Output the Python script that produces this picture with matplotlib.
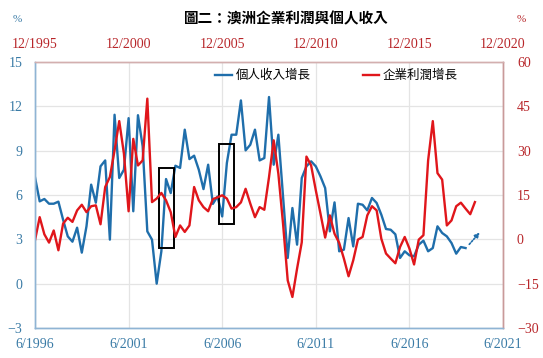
import matplotlib
matplotlib.use('Agg')
import matplotlib.pyplot as plt
from matplotlib.patches import Rectangle
import numpy as np

plt.rcParams['font.family'] = ['Liberation Serif', 'Noto Sans CJK TC']

# Quarterly series, first point = 6/1996
start_year = 1996.5
income_growth = [
    7.2, 5.57, 5.73, 5.41, 5.41, 5.55, 4.33, 3.2, 2.84, 3.79,
    2.1, 3.88, 6.7, 5.48, 7.94, 8.34, 2.98, 11.43, 7.15, 7.71,
    11.2, 4.9, 11.4, 9.3, 3.54, 2.98, 0.0, 2.19, 7.08, 6.13,
    7.98, 7.83, 10.42, 8.43, 8.66, 7.71, 6.4, 8.05, 5.4, 5.9,
    4.55, 8.17, 10.08, 10.08, 12.4, 9.02, 9.4, 10.42, 8.34, 8.5,
    12.63, 8.05, 10.08, 5.9, 1.74, 5.12, 2.64, 7.15, 7.94, 8.28,
    7.94, 7.26, 6.47, 3.54, 5.5, 2.19, 2.3, 4.44, 2.52, 5.41,
    5.34, 4.96, 5.8, 5.46, 4.67, 3.7, 3.65, 3.34, 1.74, 2.19,
    1.92, 1.85, 2.64, 2.91, 2.19, 2.41, 3.88, 3.43, 3.2, 2.75,
    2.03, 2.48, 2.41,
]
profit_growth = [
    -0.3, 7.5, 1.7, -1.1, 3.0, -3.7, 5.3, 7.3, 5.9, 9.8,
    11.7, 9.2, 11.2, 11.5, 5.1, 17.7, 21.1, 30.1, 40.0, 29.0,
    9.5, 34.0, 25.0, 26.7, 47.6, 12.6, 13.8, 15.7, 13.2, 9.2,
    0.8, 4.7, 2.5, 4.7, 17.7, 13.2, 10.9, 9.5, 13.6, 14.2,
    14.9, 13.8, 10.4, 10.9, 12.5, 17.1, 12.1, 7.5, 10.9, 10.0,
    21.0, 33.5, 22.2, 5.3, -13.9, -19.5, -9.9, -1.0, 28.0, 25.0,
    16.6, 8.7, 0.6, 8.1, 1.9, -1.2, -6.5, -12.5, -7.1, -0.1,
    0.8, 8.1, 11.2, 9.8, 0.2, -4.8, -6.5, -8.1, -2.6, 0.8,
    -3.1, -8.5, -0.1, 1.4, 26.7, 40.0, 22.4, 20.2, 4.7, 6.4,
    11.2, 12.4, 10.4, 8.5, 12.6,
]
bottom_labels = ['6/1996', '6/2001', '6/2006', '6/2011', '6/2016', '6/2021']
top_labels = ['12/1995', '12/2000', '12/2005', '12/2010', '12/2015', '12/2020']
tick_years = [1996.5, 2001.5, 2006.5, 2011.5, 2016.5, 2021.5]
# boxes drawn on the chart: (x0, x1, y0, y1) in years / left-axis %
boxes = [(2003.12, 2003.93, 2.44, 7.85), (2006.33, 2007.13, 4.06, 9.47)]
# dotted forecast arrow of income growth
arrow_from = (2019.6, 2.52)
arrow_to = (2020.35, 3.6)

blue = '#1F6EAB'
red = '#E0161B'
blue_txt = '#3A7BA6'
red_txt = '#B8262A'

x_inc = start_year + 0.25 * np.arange(len(income_growth))
x_prof = start_year + 0.25 * np.arange(len(profit_growth))

fig = plt.figure(figsize=(5.43, 3.58), dpi=100, facecolor='w')
ax = fig.add_axes([35 / 543, 1 - 328 / 358, 468 / 543, 266 / 358])
ax2 = ax.twinx()

l1, = ax.plot(x_inc, income_growth, color=blue, lw=1.7, label='個人收入增長')
l2, = ax2.plot(x_prof, profit_growth, color=red, lw=1.7, label='企業利潤增長')

ax.set_xlim(1996.5, 2021.5)
ax.set_ylim(-3, 15)
ax.set_yticks(np.arange(-3, 16, 3))
ax2.set_ylim(-30, 60)
ax2.set_yticks(np.arange(-30, 61, 15))
ax.set_xticks(tick_years)
ax.set_xticklabels(bottom_labels)
ax.grid(True, color='#E4E4E4', lw=0.9)
ax.set_axisbelow(True)

ax.tick_params(axis='x', length=0, pad=7, labelsize=10, labelcolor=blue_txt)
ax.tick_params(axis='y', length=0, pad=9, labelsize=10, labelcolor=blue_txt)
ax2.tick_params(axis='y', length=0, pad=10, labelsize=10, labelcolor=red_txt)

top = ax.secondary_xaxis('top')
top.set_xticks(tick_years)
top.set_xticklabels(top_labels)
top.tick_params(length=0, pad=8, labelsize=10, labelcolor=red_txt)
top.spines['top'].set_visible(False)

for a in (ax, ax2):
    a.spines['left'].set_color('#8FB4D4')
    a.spines['bottom'].set_color('#8FB4D4')
    a.spines['top'].set_color('#D3AFAF')
    a.spines['right'].set_color('#C99A9A')
    for s in a.spines.values():
        s.set_linewidth(1.0)

for x0, x1, y0, y1 in boxes:
    ax.add_patch(Rectangle((x0, y0), x1 - x0, y1 - y0, fill=False,
                           edgecolor='k', lw=1.4, zorder=5))

ax.annotate('', xy=arrow_to, xytext=arrow_from,
            arrowprops=dict(arrowstyle='-|>', color=blue, lw=1.2,
                            linestyle=(0, (1, 1)), mutation_scale=7))

fig.legend(handles=[l1, l2], loc='center', bbox_to_anchor=(0.62, 0.788),
           ncol=2, frameon=False, handlelength=1.3, handletextpad=0.3,
           columnspacing=4.2, prop=dict(family='Noto Sans CJK TC', size=9))

fig.text(0.528, 0.948, '圖二：澳洲企業利潤與個人收入', ha='center', va='center',
         fontsize=10.5, fontweight='bold', family='Noto Sans CJK TC')
fig.text(17 / 543, 1 - 19 / 358, '%', ha='center', va='center', fontsize=8,
         color=blue_txt)
fig.text(521 / 543, 1 - 19 / 358, '%', ha='center', va='center', fontsize=8,
         color=red_txt)

plt.savefig('out.png', dpi=100, facecolor='w')
plt.close()
